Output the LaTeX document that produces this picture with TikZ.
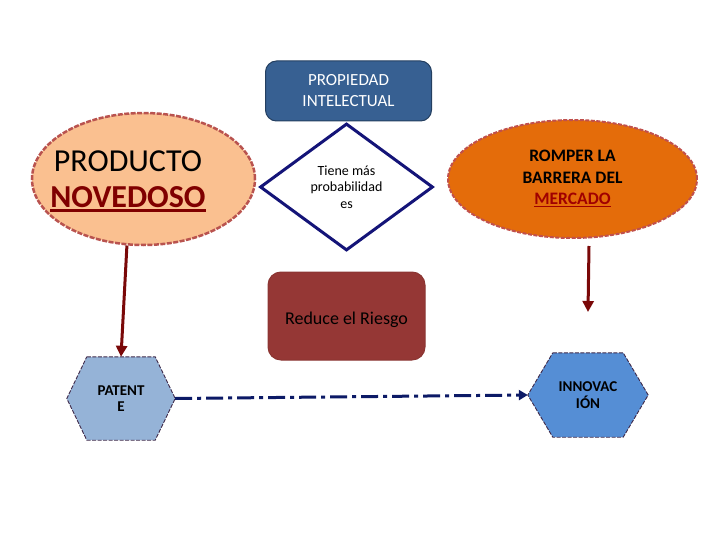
\documentclass[tikz,border=0pt]{standalone}
\usepackage{fontspec}
\setmainfont{Carlito}
\usetikzlibrary{shapes.geometric,arrows.meta,calc}
\definecolor{pipfill}{HTML}{376092}
\definecolor{pipdraw}{HTML}{243F60}
\definecolor{prodfill}{HTML}{FAC090}
\definecolor{prodbord}{HTML}{B9534F}
\definecolor{orfill}{HTML}{E46C0A}
\definecolor{orbord}{HTML}{C0504D}
\definecolor{redfill}{HTML}{953735}
\definecolor{redbord}{HTML}{8B3532}
\definecolor{patfill}{HTML}{95B3D7}
\definecolor{innfill}{HTML}{558ED5}
\definecolor{hexbord}{HTML}{3F2A4A}
\definecolor{darkred}{HTML}{7A0808}
\definecolor{ulred}{HTML}{800000}
\definecolor{ulred2}{HTML}{A00000}
\definecolor{navyd}{HTML}{141478}
\definecolor{navya}{HTML}{0C1A66}
\newcommand\myul[3]{\setbox0=\hbox{#1}\leavevmode\rlap{\rule[-#2]{\wd0}{#3}}\box0}
\tikzset{
  rbox/.style={rounded corners=11pt, inner sep=0pt, align=center},
  ell/.style={ellipse, inner sep=0pt, align=center},
  hexframe/.style={rectangle, inner sep=0pt, align=center},
  hexdraw/.style={line width=0.9pt, dash pattern=on 4pt off 1.5pt, draw=hexbord},
  redarrow/.style={draw=darkred, line width=3pt, -{Triangle[length=11pt,width=11pt]}},
  dasharrow/.style={draw=navya, line width=3pt, dash pattern=on 17pt off 5pt on 4pt off 5pt, -{Triangle[length=9pt,width=10pt]}}
}
\begin{document}
\begin{tikzpicture}[x=1pt,y=-1pt]
\useasboundingbox (0,0) rectangle (720,540);
% top box
\node[rbox, fill=pipfill, draw=pipdraw, line width=1pt, minimum width=166pt, minimum height=60pt,
      font=\fontsize{17}{21}\selectfont, text=white] (pi) at (348.5,91) {PROPIEDAD\\INTELECTUAL};
% product ellipse
\node[ell, fill=prodfill, draw=prodbord, line width=2.5pt, dash pattern=on 5pt off 1.5pt,
      minimum width=223pt, minimum height=132pt] (prod) at (143.5,179) {};
\node[align=center, font=\fontsize{32}{36}\selectfont, inner sep=0pt] (prodt) at (128,181)
  {PRODUCTO\\{\color{ulred}\bfseries\myul{NOVEDOSO}{4.5pt}{2.8pt}}};
% diamond
\node[diamond, draw=navyd, fill=white, line width=3pt, minimum width=173pt, minimum height=127pt,
      inner sep=0pt, align=center, font=\fontsize{14}{16.5}\selectfont] (dia) at (346.5,187)
  {Tiene más\\probabilidad\\es};
% orange ellipse
\node[ell, fill=orfill, draw=orbord, line width=2pt, dash pattern=on 4pt off 1.5pt,
      minimum width=249pt, minimum height=118pt, font=\bfseries\fontsize{17.5}{21.5}\selectfont] (oe) at (572.5,179)
  {ROMPER LA\\BARRERA DEL\\{\color{ulred2}\myul{MERCADO}{2.5pt}{1.5pt}}};
% reduce box
\node[rbox, rounded corners=13pt, fill=redfill, draw=redbord, line width=1pt, minimum width=157pt, minimum height=88pt,
      font=\fontsize{18}{20}\selectfont] (red) at (346.5,316) {\raisebox{-8pt}[0pt][0pt]{Reduce el Riesgo}};
% patent hexagon
\node[hexframe, minimum width=108pt, minimum height=83pt] (pat) at (121,398.5) {};
\fill[patfill] ($(pat.north west)+(20,0)$) -- ($(pat.north east)+(-20,0)$) -- (pat.east)
  -- ($(pat.south east)+(-20,0)$) -- ($(pat.south west)+(20,0)$) -- (pat.west) -- cycle;
\draw[hexdraw] ($(pat.north west)+(20,0)$) -- ($(pat.north east)+(-20,0)$) -- (pat.east)
  -- ($(pat.south east)+(-20,0)$) -- ($(pat.south west)+(20,0)$) -- (pat.west) -- cycle;
\node[align=center, font=\bfseries\fontsize{15}{16.5}\selectfont, inner sep=0pt] (patt) at (pat.center) {PATENT\\E};
% innovation hexagon
\node[hexframe, minimum width=120pt, minimum height=84pt] (inn) at (588,395) {};
\fill[innfill] ($(inn.north west)+(25,0)$) -- ($(inn.north east)+(-25,0)$) -- (inn.east)
  -- ($(inn.south east)+(-25,0)$) -- ($(inn.south west)+(25,0)$) -- (inn.west) -- cycle;
\draw[hexdraw] ($(inn.north west)+(25,0)$) -- ($(inn.north east)+(-25,0)$) -- (inn.east)
  -- ($(inn.south east)+(-25,0)$) -- ($(inn.south west)+(25,0)$) -- (inn.west) -- cycle;
\node[align=center, font=\bfseries\fontsize{15}{17}\selectfont, inner sep=0pt] (innt) at (inn.center) {INNOVAC\\IÓN};
% connectors
\draw[redarrow] (prod.256) -- (pat.north);
\coordinate (oeend) at (588,312);
\draw[redarrow] ($(oe.south)+(16.5,7)$) -- (oeend);
\draw[dasharrow] (pat.east) -- (inn.west);
\end{tikzpicture}
\end{document}
